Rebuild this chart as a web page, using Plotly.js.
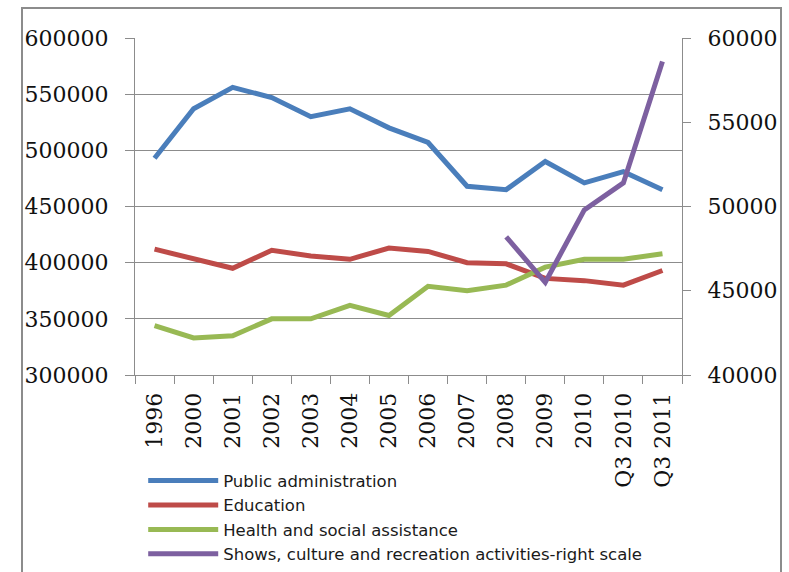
<!DOCTYPE html>
<html>
<head>
<meta charset="utf-8">
<script src="https://cdn.plot.ly/plotly-3.0.1.min.js"></script>
<style>
  html, body { margin: 0; padding: 0; background: #fff; }
  #chart { width: 789px; height: 572px; }
</style>
</head>
<body>
<div id="chart"></div>
<script>
// Employment by sector (left scale) and shows/culture/recreation (right scale)
const categories = ['1996', '2000', '2001', '2002', '2003', '2004', '2005', '2006',
                    '2007', '2008', '2009', '2010', 'Q3 2010', 'Q3 2011'];

const publicAdministration = [493000, 537000, 556000, 547000, 530000, 537000, 520000,
                              507000, 468000, 465000, 490000, 471000, 481000, 465000];
const education = [412000, 404000, 395000, 411000, 406000, 403000, 413000,
                   410000, 400000, 399000, 386000, 384000, 380000, 393000];
const healthSocial = [344000, 333000, 335000, 350000, 350000, 362000, 353000,
                      379000, 375000, 380000, 396000, 403000, 403000, 408000];
const showsCulture = [null, null, null, null, null, null, null,
                      null, null, 48200, 45500, 49800, 51400, 58600];

const seriesNames = ['Public administration', 'Education', 'Health and social assistance',
                     'Shows, culture and recreation activities-right scale'];

const leftTicks = [300000, 350000, 400000, 450000, 500000, 550000, 600000];
const rightTicks = [40000, 45000, 50000, 55000, 60000];

const colors = ['#4a7ebb', '#be4b48', '#98b954', '#7d60a0'];
const tickFont = { family: 'DejaVu Serif, serif', size: 22, color: '#111111' };
const gridGray = '#8c8c8c';

function line(name, y, color, yaxis) {
  return {
    type: 'scatter', mode: 'lines', name: name,
    x: categories, y: y, yaxis: yaxis,
    connectgaps: false,
    line: { color: color, width: 5 },
    hoverinfo: 'x+y+name'
  };
}

const data = [
  line(seriesNames[0], publicAdministration, colors[0], 'y'),
  line(seriesNames[1], education, colors[1], 'y'),
  line(seriesNames[2], healthSocial, colors[2], 'y'),
  line(seriesNames[3], showsCulture, colors[3], 'y2')
];

const layout = {
  width: 789, height: 572,
  margin: { l: 135, r: 107, t: 38, b: 197, autoexpand: false },
  paper_bgcolor: '#ffffff', plot_bgcolor: '#ffffff',
  showlegend: true,
  legend: {
    x: 0.015, y: -0.262, xanchor: 'left', yanchor: 'top',
    orientation: 'v',
    itemwidth: 70,
    font: { family: 'DejaVu Sans, sans-serif', size: 16.5, color: '#1a1a1a' },
    tracegroupgap: 0, bgcolor: 'rgba(0,0,0,0)'
  },
  xaxis: {
    type: 'category',
    tickangle: -90,
    tickfont: tickFont,
    ticks: 'outside', ticklen: 8, tickcolor: gridGray,
    tickson: 'boundaries',
    ticklabelstandoff: 8,
    showline: true, linecolor: gridGray, linewidth: 1,
    showgrid: false, zeroline: false,
    range: [-0.5, categories.length - 0.5],
    fixedrange: true
  },
  yaxis: {
    range: [300000, 600000],
    tickvals: leftTicks,
    ticktext: leftTicks.map(String),
    tickfont: tickFont,
    ticks: 'outside', ticklen: 9, tickcolor: gridGray,
    showline: true, linecolor: gridGray, linewidth: 1,
    showgrid: true, gridcolor: gridGray, gridwidth: 1,
    zeroline: false, ticklabelstandoff: 12,
    fixedrange: true
  },
  yaxis2: {
    overlaying: 'y', side: 'right',
    range: [40000, 60000],
    tickvals: rightTicks,
    ticktext: rightTicks.map(String),
    tickfont: tickFont,
    ticks: 'outside', ticklen: 8, tickcolor: gridGray,
    showline: true, linecolor: gridGray, linewidth: 1,
    showgrid: false, zeroline: false, ticklabelstandoff: 12,
    fixedrange: true
  },
  shapes: [{
    type: 'rect', xref: 'paper', yref: 'paper',
    x0: (22 - 135) / 547, x1: (781 - 135) / 547,
    y0: (375 - 590) / 337, y1: (375 - 8) / 337,
    line: { color: '#8c8c8c', width: 2 }, fillcolor: 'rgba(0,0,0,0)', layer: 'below'
  }]
};

Plotly.newPlot('chart', data, layout, { displayModeBar: false, staticPlot: true });
</script>
</body>
</html>
